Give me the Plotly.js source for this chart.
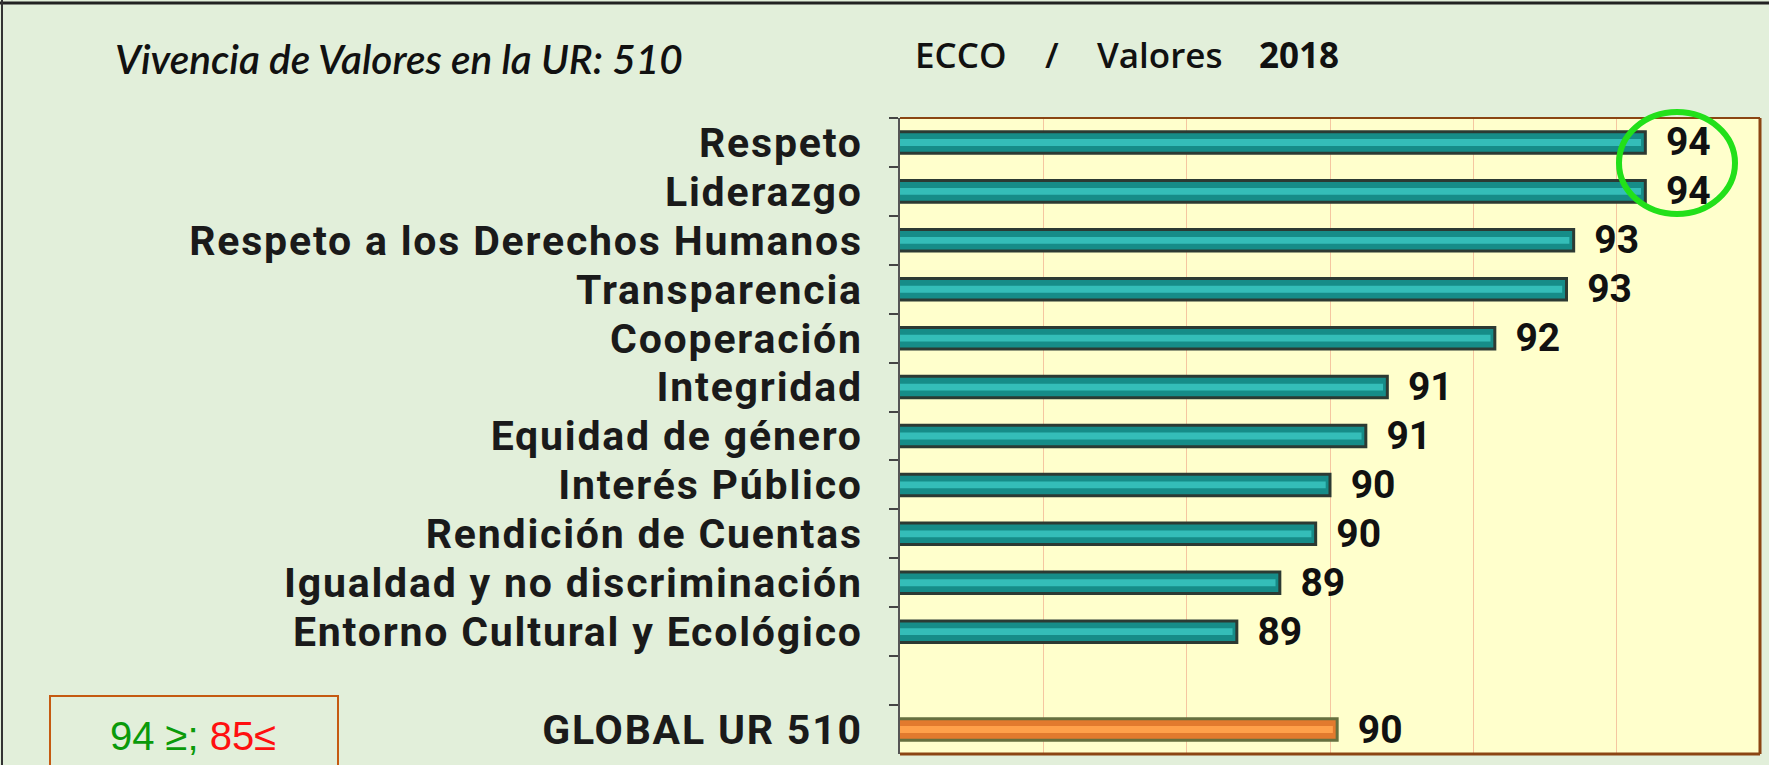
<!DOCTYPE html>
<html>
<head>
<meta charset="utf-8">
<script src="https://cdn.plot.ly/plotly-3.0.1.min.js"></script>
<style>
html,body{margin:0;padding:0;background:#E2EFDA;}
#chart{width:1769px;height:765px;}
#chart .ytick text{letter-spacing:1.8px;}
</style>
</head>
<body>
<div id="chart"></div>
<script>
// ---- data ----
var categories = [
  "Respeto",
  "Liderazgo",
  "Respeto a los Derechos Humanos",
  "Transparencia",
  "Cooperación",
  "Integridad",
  "Equidad de género",
  "Interés Público",
  "Rendición de Cuentas",
  "Igualdad y no discriminación",
  "Entorno Cultural y Ecológico"
];
var values = [94.4, 94.4, 93.4, 93.3, 92.3, 90.8, 90.5, 90.0, 89.8, 89.3, 88.7];
var globalLabel = "GLOBAL UR 510";
var globalValue = 90.1;
var chartTitle = "Vivencia de Valores en la UR: 510";
var subtitleParts = ["ECCO", "/", "Valores", "2018"];
var legendGreen = "94 ≥;";
var legendRed = "85≤";

// ---- geometry helpers (pixel -> paper) ----
var W = 1769, H = 765;
var M = {l: 900, r: 9, t: 118, b: 11};
var PW = W - M.l - M.r, PH = H - M.t - M.b;
function PX(x){ return (x - M.l) / PW; }
function PY(y){ return 1 - (y - M.t) / PH; }

var yAll = categories.concat([" ", globalLabel]);
var xAll = values.concat([null, globalValue]);
var pad = "\u00A0\u2009";
var textAll = xAll.map(function(v){ return v === null ? "" : pad + Math.round(v); });
var fillCol = yAll.map(function(c){ return c === globalLabel ? "#E27A2E" : "#168C88"; });
var lineCol = yAll.map(function(c){ return c === globalLabel ? "#66703F" : "#2C3A33"; });
var hiCol = yAll.map(function(c){ return c === globalLabel ? "#FFA04A" : "#34BDB8"; });

var main = {
  type: "bar", orientation: "h",
  y: yAll, x: xAll,
  width: 0.44,
  marker: {color: fillCol, line: {color: lineCol, width: 3}},
  text: textAll, textposition: "outside", cliponaxis: false, constraintext: "none",
  textfont: {family: "Roboto", size: 39, color: "#111111", weight: 700},
  hoverinfo: "skip"
};
var hi = {
  type: "bar", orientation: "h",
  y: yAll, x: xAll.map(function(v){ return v === null ? null : v - 0.06; }),
  width: 0.14,
  marker: {color: hiCol, line: {width: 0}},
  hoverinfo: "skip"
};

var subX = [913, 1043, 1095, 1257];
var subAnn = subtitleParts.map(function(t, i){
  return {xref: "paper", yref: "paper", x: PX(subX[i]), y: PY(54), xanchor: "left", yanchor: "middle", showarrow: false,
          text: i === 3 ? "<b>" + t + "</b>" : t,
          font: {family: "Open Sans", size: 35, color: "#111111", weight: 600}};
});

var layout = {
  width: W, height: H,
  margin: M,
  paper_bgcolor: "#E2EFDA",
  plot_bgcolor: "#FFFFCC",
  barmode: "overlay",
  showlegend: false,
  font: {family: "Roboto", color: "#1a1a1a"},
  xaxis: {
    range: [84, 96], tick0: 84, dtick: 2,
    showgrid: true, gridcolor: "#F5C6A0", gridwidth: 1,
    showticklabels: false, zeroline: false, showline: false, ticks: ""
  },
  yaxis: {
    type: "category", categoryorder: "array", categoryarray: yAll,
    range: [12.5, -0.5],
    tickmode: "linear", tick0: 0, dtick: 1,
    ticks: "outside", tickson: "boundaries", ticklen: 9, tickwidth: 2, tickcolor: "#444444",
    showline: true, linecolor: "#555555", linewidth: 2,
    showgrid: false, zeroline: false,
    ticklabelstandoff: 27,
    tickfont: {family: "Roboto", size: 41, color: "#1a1a1a", weight: 700}
  },
  shapes: [
    {type: "line", xref: "paper", yref: "paper", x0: 0, x1: 1, y0: 1, y1: 1, line: {color: "#8B4513", width: 2}},
    {type: "line", xref: "paper", yref: "paper", x0: 1, x1: 1, y0: 0, y1: 1, line: {color: "#8B4513", width: 3}},
    {type: "line", xref: "paper", yref: "paper", x0: 0, x1: 1, y0: 0, y1: 0, line: {color: "#8B4513", width: 3}},
    {type: "circle", xref: "paper", yref: "paper", x0: PX(1619), x1: PX(1735), y0: PY(214), y1: PY(112), line: {color: "#22E01A", width: 6}},
    {type: "rect", xref: "paper", yref: "paper", x0: PX(50), x1: PX(338), y0: PY(775), y1: PY(696), line: {color: "#C55A11", width: 2}},
    {type: "line", xref: "paper", yref: "paper", x0: PX(0), x1: PX(1769), y0: PY(3), y1: PY(3), line: {color: "#222222", width: 3}},
    {type: "line", xref: "paper", yref: "paper", x0: PX(2), x1: PX(2), y0: PY(0), y1: PY(765), line: {color: "#333333", width: 2}}
  ],
  annotations: [
    {xref: "paper", yref: "paper", x: PX(113), y: PY(59), xanchor: "left", yanchor: "middle", showarrow: false,
     text: "<i>" + chartTitle + "</i>", font: {family: "Lato", size: 40.5, color: "#111111", weight: 600}},
    {xref: "paper", yref: "paper", x: PX(193), y: PY(736), xanchor: "center", yanchor: "middle", showarrow: false,
     text: "<span style='color:#0A9A0A'>" + legendGreen + "</span> <span style='color:#FF1010'>" + legendRed + "</span>",
     font: {family: "Liberation Sans", size: 40, color: "#0A9A0A"}}
  ].concat(subAnn)
};

Plotly.newPlot("chart", [main, hi], layout, {staticPlot: true, displayModeBar: false});
</script>
</body>
</html>
